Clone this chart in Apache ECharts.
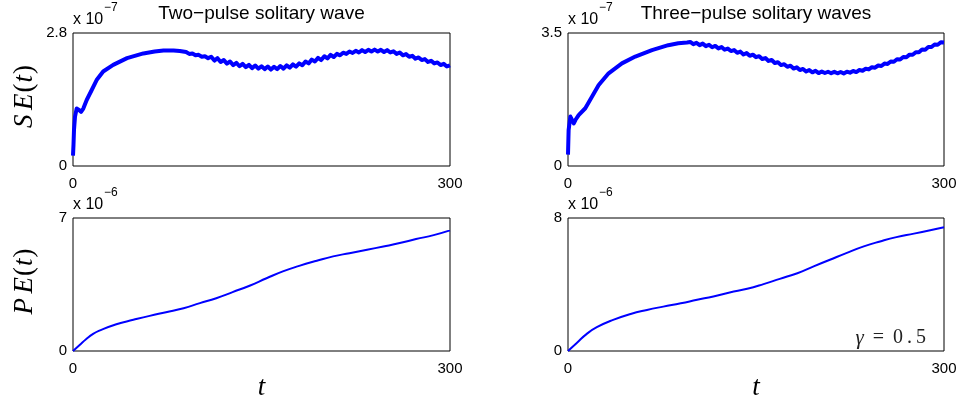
<!DOCTYPE html>
<html>
<head>
<meta charset="utf-8">
<script src="https://cdn.jsdelivr.net/npm/echarts@6/dist/echarts.min.js"></script>
<style>
  html, body { margin: 0; padding: 0; background: #fff; }
  #chart { width: 960px; height: 401px; }
</style>
</head>
<body>
<div id="chart"></div>
<script>
// Surface energy SE(t), two-pulse case (units of 1e-7)
const tSeTwo = [0, 0.4, 0.8, 1.6, 2.9, 4.0, 4.8, 6.4, 8.2, 10.9, 14.9, 18.8, 24, 32, 43, 56, 65, 72, 80, 85,
  90, 92.5, 95, 97.5, 100, 102.5, 105, 107.5, 110, 112.5, 115, 117.5, 120, 122.5, 125, 127.5, 130, 132.5, 135, 137.5,
  140, 142.5, 145, 147.5, 150, 152.5, 155, 157.5, 160, 162.5, 165, 167.5, 170, 172.5, 175, 177.5, 180, 182.5, 185, 187.5,
  190, 192.5, 195, 197.5, 200, 202.5, 205, 207.5, 210, 212.5, 215, 217.5, 220, 222.5, 225, 227.5, 230, 232.5, 235, 237.5,
  240, 242.5, 245, 247.5, 250, 252.5, 255, 257.5, 260, 262.5, 265, 267.5, 270, 272.5, 275, 277.5, 280, 282.5, 285, 287.5,
  290, 292.5, 295, 297.5, 300];
const seTwo = [0.22, 0.45, 0.76, 1.04, 1.21, 1.22, 1.18, 1.14, 1.21, 1.39, 1.60, 1.81, 1.99, 2.13, 2.27, 2.37, 2.41, 2.43, 2.43, 2.42,
  2.40, 2.36, 2.37, 2.33, 2.34, 2.30, 2.31, 2.27, 2.30, 2.22, 2.27, 2.19, 2.23, 2.155, 2.20, 2.125, 2.17, 2.10, 2.15, 2.08,
  2.13, 2.06, 2.115, 2.05, 2.10, 2.04, 2.095, 2.03, 2.09, 2.04, 2.105, 2.05, 2.12, 2.07, 2.14, 2.09, 2.16, 2.12, 2.20, 2.16,
  2.24, 2.20, 2.275, 2.23, 2.31, 2.265, 2.34, 2.295, 2.36, 2.33, 2.385, 2.36, 2.41, 2.38, 2.425, 2.39, 2.44, 2.40, 2.445, 2.41,
  2.45, 2.41, 2.445, 2.40, 2.44, 2.39, 2.415, 2.36, 2.39, 2.33, 2.355, 2.30, 2.32, 2.26, 2.285, 2.23, 2.25, 2.19, 2.215, 2.16,
  2.18, 2.125, 2.15, 2.095, 2.12];

// Surface energy SE(t), three-pulse case (units of 1e-7)
const tSeThree = [0, 0.5, 1.9, 3.2, 4.6, 5.9, 8.5, 13.8, 19.1, 24.5, 32.4, 43, 53.7, 67, 80, 88, 95,
  97.5, 100, 102.5, 105, 107.5, 110, 112.5, 115, 117.5, 120, 122.5, 125, 127.5, 130, 132.5, 135, 137.5,
  140, 142.5, 145, 147.5, 150, 152.5, 155, 157.5, 160, 162.5, 165, 167.5, 170, 172.5, 175, 177.5, 180, 182.5, 185, 187.5,
  190, 192.5, 195, 197.5, 200, 202.5, 205, 207.5, 210, 212.5, 215, 217.5, 220, 222.5, 225, 227.5, 230, 232.5, 235, 237.5,
  240, 242.5, 245, 247.5, 250, 252.5, 255, 257.5, 260, 262.5, 265, 267.5, 270, 272.5, 275, 277.5, 280, 282.5, 285, 287.5,
  290, 292.5, 295, 297.5, 300];
const seThree = [0.30, 0.95, 1.30, 1.34, 1.12, 1.21, 1.34, 1.52, 1.82, 2.13, 2.44, 2.70, 2.88, 3.05, 3.18, 3.23, 3.25,
  3.265, 3.205, 3.24, 3.18, 3.22, 3.155, 3.19, 3.125, 3.16, 3.095, 3.13, 3.06, 3.09, 3.025, 3.05, 2.98, 3.01,
  2.935, 2.97, 2.90, 2.93, 2.865, 2.89, 2.815, 2.84, 2.765, 2.79, 2.71, 2.73, 2.655, 2.68, 2.61, 2.64, 2.565, 2.595, 2.525, 2.555,
  2.485, 2.525, 2.465, 2.505, 2.445, 2.485, 2.447, 2.48, 2.442, 2.477, 2.44, 2.474, 2.437, 2.482, 2.455, 2.50, 2.472, 2.525, 2.507, 2.56,
  2.542, 2.60, 2.587, 2.645, 2.632, 2.695, 2.687, 2.75, 2.742, 2.808, 2.802, 2.868, 2.862, 2.93, 2.927, 2.995, 2.992, 3.063, 3.062, 3.133,
  3.132, 3.198, 3.192, 3.258, 3.252];

// Energy PE(t), two-pulse case (units of 1e-6)
const tPeTwo = [0, 5.3, 10.6, 16, 21, 34.5, 48, 61, 74, 88, 101, 114, 127, 141, 154, 167, 180, 194, 207, 220, 234, 247, 260, 273, 287, 300];
const peTwo = [0, 0.32, 0.63, 0.90, 1.07, 1.41, 1.64, 1.85, 2.04, 2.25, 2.52, 2.78, 3.10, 3.45, 3.83, 4.19, 4.48, 4.75, 4.98, 5.15, 5.33, 5.50, 5.68, 5.89, 6.10, 6.35];

// Energy PE(t), three-pulse case (units of 1e-6)
const tPeThree = [0, 7.2, 15, 23, 36, 50, 63, 76, 90, 103, 116, 129, 143, 156, 169, 183, 196, 209, 222, 236, 249, 262, 276, 289, 300];
const peThree = [0, 0.50, 1.03, 1.43, 1.87, 2.23, 2.47, 2.67, 2.87, 3.08, 3.28, 3.52, 3.74, 4.02, 4.34, 4.68, 5.09, 5.49, 5.89, 6.29, 6.59, 6.85, 7.06, 7.26, 7.44];

// Axis limits: time span and per-panel y maxima
const tMax = 300;
const yMaxes = [2.8, 3.5, 7, 8];
const exponents = ['−7', '−7', '−6', '−6'];
const titles = ['Two−pulse solitary wave', 'Three−pulse solitary waves'];

const zip = (ts, vs) => ts.map((t, i) => [t, vs[i]]);

const grids = [
  { left: 73, top: 33, width: 377, height: 133 },
  { left: 568, top: 33, width: 376, height: 133 },
  { left: 73, top: 218, width: 377, height: 133 },
  { left: 568, top: 218, width: 376, height: 133 }
];

const sans = 'Liberation Sans, Arial, Helvetica, sans-serif';
const serif = 'Liberation Serif, Times New Roman, serif';

const xAxes = grids.map((g, i) => ({
  type: 'value', gridIndex: i, min: 0, max: tMax, interval: tMax,
  axisLine: { show: false }, axisTick: { show: false }, splitLine: { show: false },
  axisLabel: { color: '#000', fontFamily: sans, fontSize: 15, margin: 10 }
}));
const yAxes = grids.map((g, i) => ({
  type: 'value', gridIndex: i, min: 0, max: yMaxes[i], interval: yMaxes[i],
  axisLine: { show: false }, axisTick: { show: false }, splitLine: { show: false },
  axisLabel: { color: '#000', fontFamily: sans, fontSize: 15, margin: 6 }
}));

const lineSeries = (data, i, width, smooth) => ({
  type: 'line', xAxisIndex: i, yAxisIndex: i, data: data,
  showSymbol: false, smooth: smooth, animation: false,
  lineStyle: { color: '#0000ff', width: width, join: 'round' }
});

const graphics = [];
// panel titles
titles.forEach((txt, i) => {
  const g = grids[i];
  graphics.push({ type: 'text', x: g.left + g.width / 2, y: 14,
    style: { text: txt, font: '19px ' + sans, fill: '#000', textAlign: 'center', textVerticalAlign: 'middle' } });
});
// exponent multipliers above each panel
grids.forEach((g, i) => {
  graphics.push({ type: 'text', x: g.left, y: g.top - 13,
    style: { text: 'x 10', font: '16px ' + sans, fill: '#000', textAlign: 'left', textVerticalAlign: 'middle' } });
  graphics.push({ type: 'text', x: g.left + 31, y: g.top - 25,
    style: { text: exponents[i], font: '12px ' + sans, fill: '#000', textAlign: 'left', textVerticalAlign: 'middle' } });
});
// y-axis names
const yName = (label, cy) => ({
  type: 'text', x: 25, y: cy, rotation: Math.PI / 2,
  style: {
    text: '{i|' + label + '}{s| }{i|E}{u|(}{i|t}{u|)}',
    textAlign: 'center', textVerticalAlign: 'middle', fill: '#000',
    rich: {
      i: { fontFamily: serif, fontStyle: 'italic', fontSize: 27, fill: '#000' },
      u: { fontFamily: serif, fontSize: 27, fill: '#000', padding: [0, 1, 0, 1] },
      s: { fontFamily: serif, fontSize: 18, fill: '#000' }
    }
  }
});
graphics.push(yName('S', 96));
graphics.push(yName('P', 281));
// x-axis names
[grids[2], grids[3]].forEach(g => {
  graphics.push({ type: 'text', x: g.left + g.width / 2, y: 388,
    style: { text: 't', font: 'italic 27px ' + serif, fill: '#000', textAlign: 'center', textVerticalAlign: 'middle' } });
});
// parameter annotation
graphics.push({ type: 'text', x: 926, y: 338,
  style: {
    text: '{g|γ}{e|=}{n|0}{d|.}{n|5}',
    textAlign: 'right', textVerticalAlign: 'middle', fill: '#000',
    rich: {
      g: { fontFamily: serif, fontStyle: 'italic', fontSize: 21, fill: '#222', padding: [0, 9, 0, 0] },
      e: { fontFamily: serif, fontSize: 20, fill: '#222', padding: [0, 9, 0, 0] },
      n: { fontFamily: serif, fontSize: 20, fill: '#222' },
      d: { fontFamily: serif, fontSize: 20, fill: '#222', padding: [0, 4, 0, 4] }
    }
  }
});

const chart = echarts.init(document.getElementById('chart'), null, { renderer: 'canvas' });
chart.setOption({
  animation: false,
  backgroundColor: '#fff',
  grid: grids.map(g => Object.assign({ show: true, borderColor: '#000', borderWidth: 1, backgroundColor: 'transparent' }, g)),
  xAxis: xAxes,
  yAxis: yAxes,
  series: [
    lineSeries(zip(tSeTwo, seTwo), 0, 4, false),
    lineSeries(zip(tSeThree, seThree), 1, 4, false),
    lineSeries(zip(tPeTwo, peTwo), 2, 2, 0.5),
    lineSeries(zip(tPeThree, peThree), 3, 2, 0.5)
  ],
  graphic: graphics
});
</script>
</body>
</html>
